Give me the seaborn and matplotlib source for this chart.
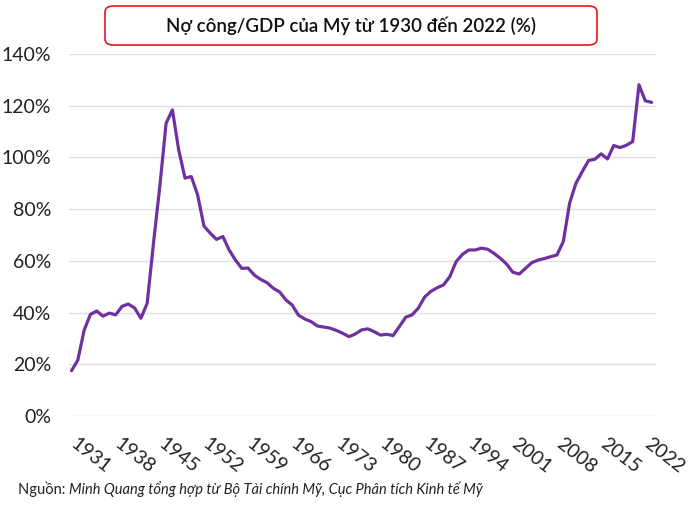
import numpy as np
import pandas as pd
import matplotlib
matplotlib.use("Agg")
import matplotlib.pyplot as plt
from matplotlib.patches import FancyBboxPatch
import seaborn as sns

# Nợ công/GDP (%) của Mỹ, 1930-2022
years = list(range(1930, 2023))
debt_gdp = [
    17.5, 21.6, 33.2, 39.3, 40.6, 38.6, 39.8, 39.1, 42.4, 43.3,   # 1930-1939
    41.8, 37.8, 43.6, 66.8, 88.7, 113.2, 118.4, 102.9, 92.0, 92.6,  # 1940-1949
    85.5, 73.5, 70.7, 68.3, 69.4, 64.2, 60.3, 57.1, 57.2, 54.5,   # 1950-1959
    52.8, 51.6, 49.4, 48.0, 44.9, 42.9, 39.0, 37.5, 36.5, 34.8,   # 1960-1969
    34.4, 34.0, 33.1, 32.0, 30.7, 31.7, 33.3, 33.7, 32.6, 31.3,   # 1970-1979
    31.6, 31.1, 34.6, 38.2, 39.1, 41.7, 46.0, 48.2, 49.6, 50.7,   # 1980-1989
    53.9, 59.7, 62.5, 64.2, 64.2, 64.9, 64.5, 62.9, 61.0, 58.8,   # 1990-1999
    55.6, 54.9, 57.1, 59.3, 60.3, 60.9, 61.6, 62.3, 67.5, 82.3,   # 2000-2009
    90.0, 94.5, 98.8, 99.3, 101.4, 99.4, 104.6, 103.8, 104.7, 106.1,  # 2010-2019
    128.1, 121.9, 121.3,                                          # 2020-2022
]
tick_years = list(range(1931, 2023, 7))

title = "Nợ công/GDP của Mỹ từ 1930 đến 2022 (%)"
source_label = "Nguồn: "
source_text = "Minh Quang tổng hợp từ Bộ Tài chính Mỹ, Cục Phân tích Kinh tế Mỹ"

df = pd.DataFrame({"year": years, "debt": debt_gdp})

sns.set_style("white")
plt.rcParams["font.family"] = ["Lato", "DejaVu Sans"]

fig = plt.figure(figsize=(7, 5.05), dpi=100)
ax = fig.add_axes([69 / 700, 1 - 416 / 505, 587 / 700, 362 / 505])

sns.lineplot(data=df, x="year", y="debt", color="#7030A0", linewidth=2.3, ax=ax)

ax.set_ylim(0, 140)
ax.set_xlim(1929.6, 2022.7)
ax.set_yticks(range(0, 141, 20))
ax.set_yticklabels([f"{v}%" for v in range(0, 141, 20)], fontsize=14, color="#222222")
ax.set_xticks(tick_years)
ax.set_xticklabels([str(y) for y in tick_years], fontsize=14, color="#222222",
                   rotation=-38, ha="left", va="top", rotation_mode="anchor")
ax.tick_params(axis="both", length=0)
ax.tick_params(axis="y", pad=13)
ax.tick_params(axis="x", pad=14)
ax.grid(axis="y", color="#e0e0e0", linewidth=1)
ax.set_axisbelow(True)
for s in ax.spines.values():
    s.set_visible(False)
ax.set_xlabel("")
ax.set_ylabel("")

# title box
box = FancyBboxPatch((105 / 700, 1 - 45 / 505), 492 / 700, 39 / 505,
                     boxstyle="round,pad=0,rounding_size=0.012",
                     transform=fig.transFigure, facecolor="white",
                     edgecolor="#e8141b", linewidth=1.2)
fig.patches.append(box)
fig.text(351 / 700, 1 - 26 / 505, title, ha="center", va="center",
         fontsize=13.5, fontweight="semibold", color="#111111")

# source note
t1 = fig.text(18 / 700, 1 - 489 / 505, source_label, ha="left", va="center",
              fontsize=10.5, color="#222222")
fig.canvas.draw()
bb = t1.get_window_extent(renderer=fig.canvas.get_renderer())
x_next = bb.x1 / fig.bbox.width
fig.text(x_next, 1 - 489 / 505, source_text, ha="left", va="center",
         fontsize=10.5, style="italic", color="#222222")

fig.savefig("out.png", dpi=100)
